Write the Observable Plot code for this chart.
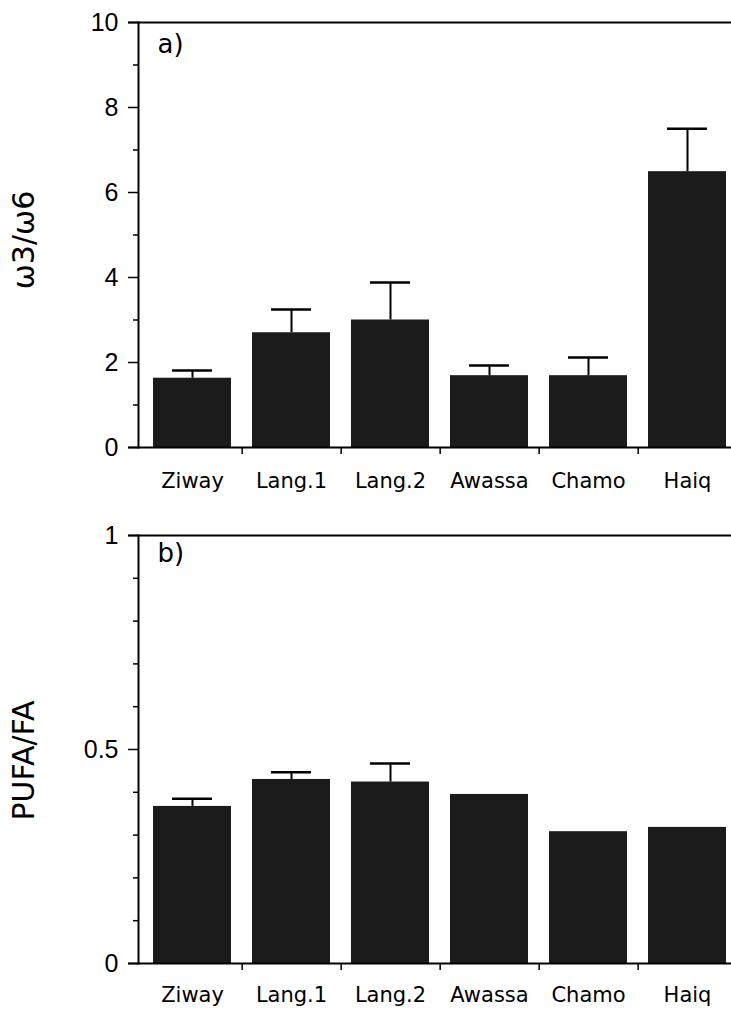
<!DOCTYPE html>
<html><head><meta charset="utf-8">
<script src="https://cdn.jsdelivr.net/npm/d3@7"></script>
<script src="https://cdn.jsdelivr.net/npm/@observablehq/plot@0.6"></script>
<style>body{margin:0;background:#fff;} #chart svg{display:block;}</style>
</head><body><div id="chart"></div>
<script>
const lakes = ["Ziway", "Lang.1", "Lang.2", "Awassa", "Chamo", "Haiq"];
const ratioMean = [1.63, 2.70, 3.00, 1.69, 1.69, 6.49];
const ratioErr  = [0.18, 0.55, 0.88, 0.24, 0.43, 1.01];
const pufaMean  = [0.367, 0.430, 0.424, 0.395, 0.308, 0.318];
const pufaErr   = [0.018, 0.017, 0.043, 0, 0, 0];
const ratioMajor = [0, 2, 4, 6, 8, 10];
const ratioMinor = [1, 3, 5, 7, 9];
const pufaMajor = [0, 0.5, 1];
const pufaMinor = [0.1, 0.2, 0.3, 0.4, 0.6, 0.7, 0.8, 0.9];

const FONT = "'DejaVu Sans', Verdana, sans-serif";
const NUMFONT = "'Liberation Sans', Arial, Helvetica, sans-serif";
const xRange = [141, 737];
const step = (xRange[1] - xRange[0]) / lakes.length;

function panel({means, errs, yMax, major, minor, ylabel, tag, height, marginTop, marginBottom,
                labelDy, tagDy, xPad}) {
  const data = lakes.map((lake, i) => ({lake, mean: means[i], hi: means[i] + errs[i], err: errs[i]}));
  const withErr = data.filter(d => d.err > 0);
  return Plot.plot({
    width: 731, height, marginLeft: 138, marginRight: 0, marginTop, marginBottom,
    style: {fontFamily: FONT, color: "#000", background: "#fff", overflow: "visible"},
    x: {domain: lakes, range: xRange, paddingInner: 0.215, paddingOuter: 0.1075, axis: null},
    y: {domain: [0, yMax], axis: null},
    marks: [
      Plot.barY(data, {x: "lake", y: "mean", fill: "#1b1b1b"}),
      Plot.ruleX(withErr, {x: "lake", y1: "mean", y2: "hi", stroke: "#000", strokeWidth: 2}),
      Plot.tickY(withErr, {x: "lake", y: "hi", stroke: "#000", strokeWidth: 2.5, inset: 19}),
      Plot.ruleY([0], {stroke: "#000", strokeWidth: 2, insetLeft: -10}),
      Plot.ruleY([yMax], {stroke: "#000", strokeWidth: 2, insetLeft: -10}),
      Plot.frame({anchor: "left", stroke: "#000", strokeWidth: 2}),
      Plot.axisY({ticks: major, tickSize: 10, tickPadding: 0, strokeWidth: 1.5,
                  tickFormat: () => "", label: null}),
      Plot.text(major, {y: d => d, frameAnchor: "left", dx: -20, textAnchor: "end",
                        lineAnchor: "middle", fontSize: 25, fontFamily: NUMFONT, fill: "#000",
                        text: d => String(d)}),
      Plot.axisY({ticks: minor, tickSize: 5, tickPadding: 0, strokeWidth: 1.5,
                  tickFormat: () => "", label: null}),
      Plot.axisX({ticks: lakes.slice(0, lakes.length - 1), tickSize: 7, dx: step / 2, strokeWidth: 1.5,
                  tickFormat: () => "", label: null}),
      Plot.text(lakes, {x: d => d, frameAnchor: "bottom", dy: xPad, lineAnchor: "top",
                        fontSize: 21, fill: "#000"}),
      Plot.text([ylabel], {frameAnchor: "left", dx: -114, dy: labelDy, rotate: -90, fontSize: 30,
                           textAnchor: "middle", lineAnchor: "middle", fill: "#000"}),
      Plot.text([tag], {frameAnchor: "top-left", dx: 19, dy: tagDy, textAnchor: "start",
                        lineAnchor: "top", fontSize: 26, fill: "#000"})
    ]
  });
}

const chart = document.getElementById("chart");
chart.append(panel({means: ratioMean, errs: ratioErr, yMax: 10, major: ratioMajor, minor: ratioMinor,
  ylabel: "ω3/ω6", tag: "a)", height: 510, marginTop: 22, marginBottom: 63, labelDy: 5, tagDy: 12, xPad: 26}));
chart.append(panel({means: pufaMean, errs: pufaErr, yMax: 1, major: pufaMajor, minor: pufaMinor,
  ylabel: "PUFA/FA", tag: "b)", height: 511, marginTop: 25, marginBottom: 58, labelDy: 11, tagDy: 8, xPad: 24}));
</script>
</body></html>
